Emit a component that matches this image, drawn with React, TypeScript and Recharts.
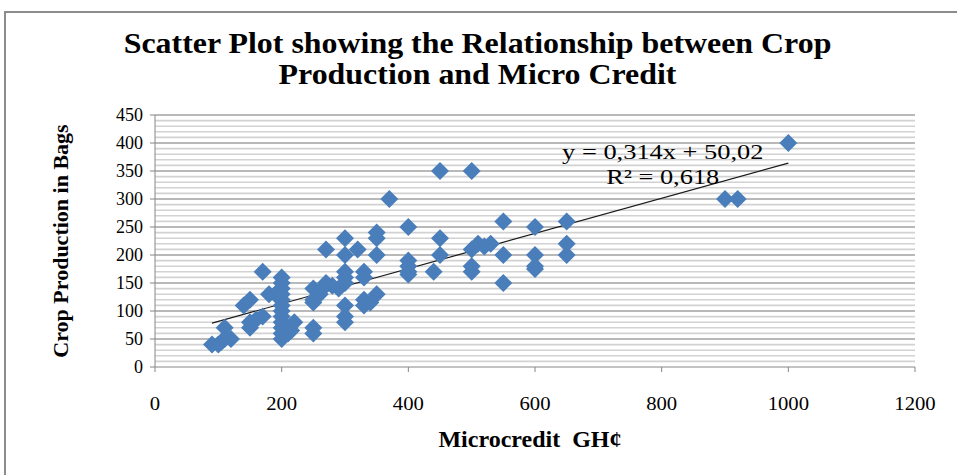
import React from 'react';
import { ScatterChart, Scatter, XAxis, YAxis, ReferenceLine } from 'recharts';

// microcredit received (GH¢) and crop production (bags) per farmer
const creditGHc = [
  90, 100, 105, 110, 110, 120,
  140, 150, 150, 150, 160, 170, 170, 180, 190,
  200, 200, 200, 200, 200, 200, 200, 200, 200, 200, 200, 200,
  210, 210, 215, 220,
  250, 250, 250, 250, 250, 260, 260,
  270, 270, 280, 290,
  300, 300, 300, 300, 300, 300, 300, 300,
  320, 330, 330, 330, 330, 340,
  350, 350, 350, 350,
  370,
  400, 400, 400, 400, 400,
  440,
  450, 450, 450,
  500, 500, 500, 500,
  510, 520, 530,
  550, 550, 550,
  600, 600, 600, 600,
  650, 650, 650,
  900, 920, 1000,
];
const cropBags = [
  40, 40, 45, 70, 50, 50,
  110, 120, 70, 80, 85, 170, 90, 130, 130,
  160, 150, 140, 130, 120, 110, 100, 90, 80, 70, 60, 50,
  60, 70, 65, 80,
  140, 120, 115, 70, 60, 130, 135,
  210, 150, 145, 140,
  230, 200, 170, 160, 150, 110, 90, 80,
  210, 170, 160, 120, 110, 115,
  240, 230, 200, 130,
  300,
  250, 190, 180, 170, 165,
  170,
  350, 230, 200,
  350, 210, 180, 170,
  220, 215, 220,
  260, 200, 150,
  250, 200, 180, 175,
  260, 220, 200,
  300, 300, 400,
];

const xTicks = [0, 200, 400, 600, 800, 1000, 1200];
const yTicks = [0, 50, 100, 150, 200, 250, 300, 350, 400, 450];
const gridStep = 10;

// linear trend shown on the chart
const trendSlope = 0.314;
const trendIntercept = 50.02;
const trendRange = [90, 1000];

const points = creditGHc.map((x, i) => ({ x, y: cropBags[i] }));
const gridValues = Array.from({ length: 450 / gridStep }, (_, i) => (i + 1) * gridStep);
const trendSegment = trendRange.map((x) => ({ x, y: trendSlope * x + trendIntercept }));

const serif = '"Liberation Serif", "Times New Roman", serif';

const Diamond = (props: any) => {
  const { cx, cy } = props;
  if (cx == null || cy == null) return null;
  return (
    <path
      d={`M${cx},${cy - 9}L${cx + 9},${cy}L${cx},${cy + 9}L${cx - 9},${cy}Z`}
      fill="#4a7ebb"
    />
  );
};

// tick text slightly widened, like the original export
const XTick = (props: any) => {
  const { x, y, payload } = props;
  return (
    <text
      transform={`translate(${x},${y + 14}) scale(1.15,1)`}
      textAnchor="middle"
      fill="#000"
      fontSize={18}
      fontFamily={serif}
    >
      {payload.value}
    </text>
  );
};

const YTick = (props: any) => {
  const { x, y, payload } = props;
  return (
    <text
      transform={`translate(${x},${y + 6})`}
      textAnchor="end"
      fill="#000"
      fontSize={18}
      fontFamily={serif}
    >
      {payload.value}
    </text>
  );
};

const App = () => {
  return (
    <div style={{ position: 'absolute', left: 0, top: 0, width: 957, height: 475, overflow: 'hidden', background: '#fff', fontFamily: serif }}>
      <div
        style={{
          position: 'absolute', left: 4, top: 11, width: 953, height: 464, boxSizing: 'border-box',
          borderLeft: '2px solid #8c8c8c', borderTop: '2px solid #8c8c8c',
        }}
      />
      <div
        style={{
          position: 'absolute', left: 0, top: 28, width: 957, textAlign: 'center', fontWeight: 'bold',
          fontSize: 29, lineHeight: '31px', color: '#000', transform: 'scaleX(1.1)', transformOrigin: '488px 0',
        }}
      >
        Scatter Plot showing the Relationship between Crop
        <br />
        Production and Micro Credit
      </div>

      <ScatterChart
        width={957}
        height={475}
        margin={{ top: 115, right: 42, bottom: 48, left: 0 }}
        style={{ position: 'absolute', left: 0, top: 0 }}
      >
        <XAxis
          type="number"
          dataKey="x"
          domain={[0, 1200]}
          ticks={xTicks}
          height={60}
          tick={<XTick />}
          tickSize={5}
          tickMargin={24}
          axisLine={{ stroke: '#868686' }}
          tickLine={{ stroke: '#868686' }}
        />
        <YAxis
          type="number"
          dataKey="y"
          domain={[0, 450]}
          ticks={yTicks}
          width={155}
          tick={<YTick />}
          tickSize={5}
          tickMargin={7}
          axisLine={{ stroke: '#868686' }}
          tickLine={{ stroke: '#868686' }}
        />
        {gridValues.map((v) => (
          <ReferenceLine
            key={v}
            y={v}
            stroke={v % 50 === 0 ? '#a2a2a2' : '#d2d2d2'}
            strokeWidth={1.6}
          />
        ))}
        <Scatter data={points} shape={<Diamond />} isAnimationActive={false} />
        <ReferenceLine
          segment={trendSegment}
          stroke="#1a1a1a"
          strokeWidth={1.2}
        />
      </ScatterChart>

      <div style={{ position: 'absolute', left: 540, top: 139, width: 245, textAlign: 'center', fontSize: 22, lineHeight: '25px', color: '#000', transform: 'scaleX(1.2)', transformOrigin: '121px 0' }}>
        y = 0,314x + 50,02
        <br />
        R² = 0,618
      </div>

      <div
        style={{
          position: 'absolute', left: 61, top: 241, transform: 'translate(-50%, -50%) rotate(-90deg)',
          whiteSpace: 'nowrap', fontWeight: 'bold', fontSize: 22, color: '#000',
        }}
      >
        Crop Production in Bags
      </div>
      <div style={{ position: 'absolute', left: 0, top: 426, width: 1060, textAlign: 'center', fontWeight: 'bold', fontSize: 24, color: '#000', whiteSpace: 'pre' }}>
        {'Microcredit  GH¢'}
      </div>
    </div>
  );
};

export default App;
